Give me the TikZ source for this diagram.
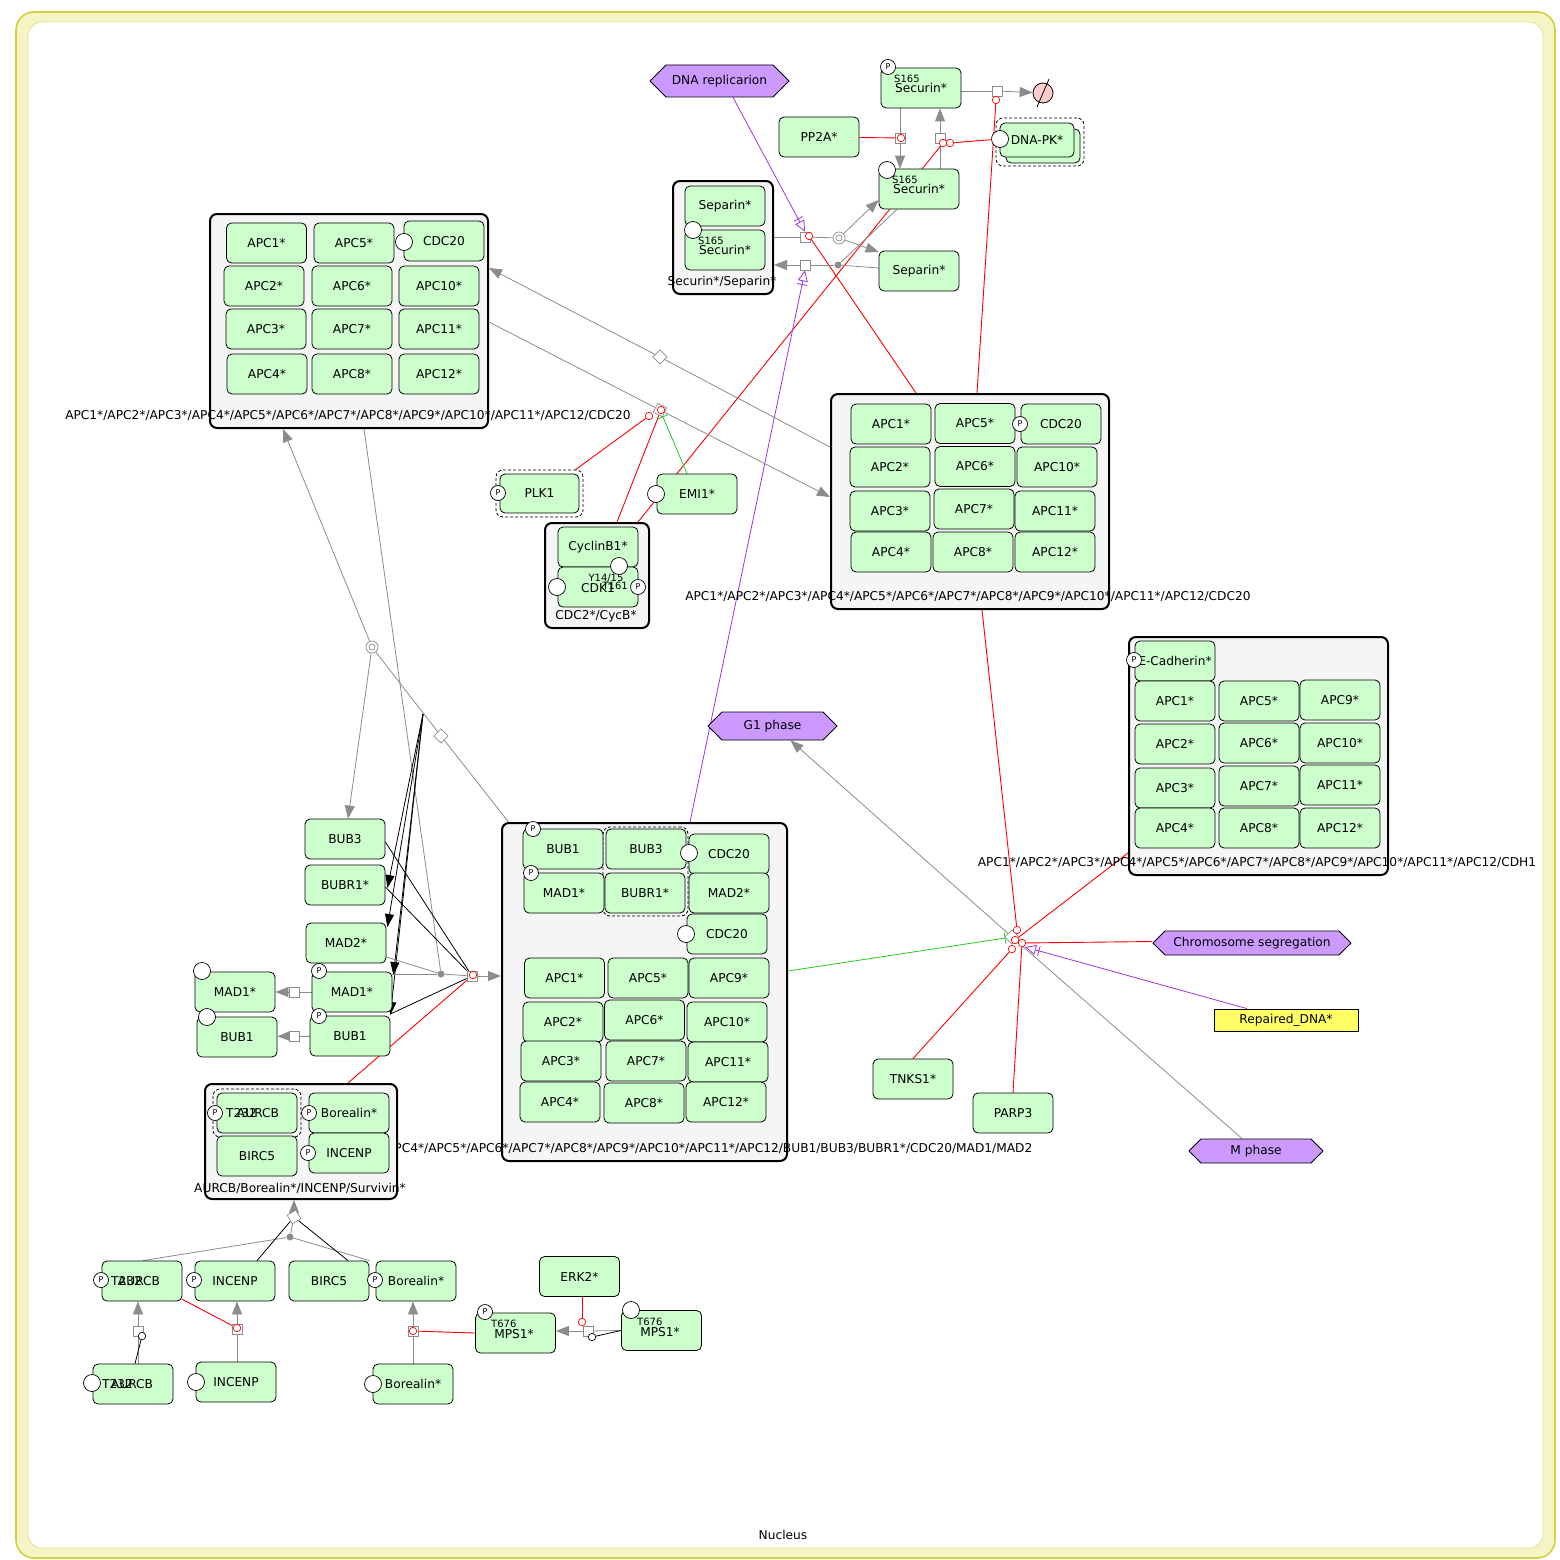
\documentclass[tikz,border=0pt]{standalone}
\usepackage{fontspec}
\setmainfont{DejaVu Sans}
\usetikzlibrary{arrows.meta,shapes.misc,shapes.symbols,calc}
\pgfdeclarelayer{bg}
\pgfdeclarelayer{edges}
\pgfsetlayers{bg,edges,main}
\definecolor{gfill}{HTML}{CCFFCC}
\definecolor{cfill}{HTML}{F5F5F5}
\definecolor{pfill}{HTML}{CC99FF}
\definecolor{yfill}{HTML}{FFFF66}
\definecolor{dfill}{HTML}{FFCCCC}
\definecolor{lgray}{HTML}{8C8C8C}
\definecolor{purp}{HTML}{A033E0}
\definecolor{grn}{HTML}{22CC22}
\definecolor{band}{HTML}{F4F4C4}
\definecolor{bandline}{HTML}{D0D040}
\definecolor{inline}{HTML}{E4E490}
\tikzset{
 base/.style={font=\fontsize{12.2}{14}\selectfont},
 gn/.style={base, rectangle, rounded corners=5pt, draw, line width=0.8pt, fill=gfill, minimum width=80pt, minimum height=40pt, inner sep=0pt},
 cx/.style={rectangle, rounded corners=7pt, draw, line width=2pt, fill=cfill, inner sep=0pt},
 hexa/.style={base, shape=signal, signal to=east and west, signal pointer angle=90, draw, line width=0.8pt, fill=pfill, inner sep=0pt},
 sv/.style={circle, draw, line width=0.7pt, fill=white, minimum size=15pt, inner sep=0pt, font=\fontsize{8}{8}\selectfont},
 sm/.style={font=\fontsize{10}{10}\selectfont, inner sep=0pt},
 lab/.style={base, inner sep=0pt},
 dsh/.style={draw, dash pattern=on 3pt off 2pt, line width=0.8pt, rounded corners=7pt, inner sep=0pt},
 pq/.style={rectangle, draw=lgray, line width=0.7pt, fill=white, minimum size=10pt, inner sep=0pt},
 pd/.style={pq, rotate=45},
 dcirc/.style={circle, draw=lgray, line width=0.7pt, fill=white, minimum size=12pt, inner sep=0pt, path picture={\draw[lgray, line width=0.7pt] (path picture bounding box.center) circle (3pt);}},
 adot/.style={circle, fill=lgray, minimum size=7pt, inner sep=0pt},
 rc/.style={circle, draw=red, line width=0.7pt, fill=white, minimum size=7.5pt, inner sep=0pt},
 bc/.style={circle, draw=black, line width=0.7pt, fill=white, minimum size=7.5pt, inner sep=0pt},
 gl/.style={draw=lgray, line width=0.8pt},
 ga/.style={gl, -{Triangle[length=13pt, width=10pt]}},
 rline/.style={draw=red, line width=0.9pt},
 bl/.style={draw=black, line width=0.8pt},
 ba/.style={bl, -{Triangle[length=13pt, width=9pt]}},
 inh/.style={draw=grn, line width=0.8pt, -{Bar[width=11pt]}},
 nst/.style={draw=purp, line width=0.8pt, -{Bar[width=10pt, sep=3pt] Triangle[open, length=11pt, width=10pt]}},
}
\begin{document}
\begin{tikzpicture}[x=1pt,y=-1pt]
\useasboundingbox (0,0) rectangle (1560,1560);
\begin{pgfonlayer}{bg}
\draw[draw=bandline, line width=1.6pt, fill=band, rounded corners=18pt] (16,12) rectangle (1555,1558);
\draw[draw=inline, line width=0.8pt, fill=white, rounded corners=14pt] (28,22) rectangle (1543,1548);
\end{pgfonlayer}
\node[lab] (nucleus) at (783,1535) {Nucleus};

% ---------- top region ----------
\node[hexa, minimum width=139pt, minimum height=32pt] (dnarep) at (719.5,81) {DNA replicarion};
\node[gn] (secP) at (921,88) {Securin*};
\node[sv] (secPp) at (888,67) {P};
\node[sm, anchor=west] (secPs) at (894,79) {S165};
\node[gn] (pp2a) at (819,137) {PP2A*};
\node[circle, draw, line width=0.8pt, fill=dfill, minimum size=20pt, inner sep=0pt] (degr) at (1043,93) {};
\draw[line width=0.8pt] ($(degr)+(-6,14)$) -- ($(degr)+(6,-14)$);
\node[dsh, minimum width=88pt, minimum height=48pt] (dnapko) at (1040,142) {};
\node[gn, minimum width=74pt, minimum height=34pt] (dnapkb) at (1043,146) {};
\node[gn, minimum width=74pt, minimum height=34pt] (dnapk) at (1037,140) {DNA-PK*};
\node[sv, minimum size=17pt] (dnapkc) at (1000,139) {};
\node[gn] (secS) at (919,189) {Securin*};
\node[sv, minimum size=17pt] (secSc) at (887,170) {};
\node[sm, anchor=west] (secSs) at (892,180) {S165};
\node[gn] (sepA) at (919,271) {Separin*};

\node[cx, minimum width=100pt, minimum height=113pt] (SS) at (723,237.5) {};
\node[gn] (SSsep) at (725,206) {Separin*};
\node[gn] (SSsec) at (725,250) {Securin*};
\node[sv, minimum size=17pt] (SSc) at (693,230) {};
\node[sm, anchor=west] (SSs) at (698,241) {S165};
\node[lab] (SSl) at (722,282) {Securin*/Separin*};

\node[pq] (p1) at (900,138) {};
\node[rc] (r1) at (901,138) {};
\node[pq] (p2) at (940,138) {};
\node[rc] (r2a) at (943,143) {};
\node[rc] (r2b) at (950,143) {};
\node[pq] (p3) at (997,91) {};
\node[rc] (r3) at (996,100) {};
\node[pq] (p4) at (805,237) {};
\node[rc] (r4) at (809,236) {};
\node[dcirc] (d1) at (839,238) {};
\node[pq] (p5) at (805,265) {};
\node[adot] (a1) at (838,265) {};

% ---------- left APC complex ----------
\node[cx, minimum width=278pt, minimum height=214pt] (L) at (349,321) {};
\node[gn] (L1) at (266.5,243) {APC1*};
\node[gn] (L5) at (354,243) {APC5*};
\node[gn] (Lcdc) at (444,241) {CDC20};
\node[sv, minimum size=17pt] (Lc) at (404,242) {};
\node[gn] (L2) at (264,286) {APC2*};
\node[gn] (L6) at (352,286) {APC6*};
\node[gn] (L10) at (439,286) {APC10*};
\node[gn] (L3) at (266,329) {APC3*};
\node[gn] (L7) at (352,329) {APC7*};
\node[gn] (L11) at (439,329) {APC11*};
\node[gn] (L4) at (267,374) {APC4*};
\node[gn] (L8) at (352,374) {APC8*};
\node[gn] (L12) at (439,374) {APC12*};
\node[lab] (Ll) at (348,416) {APC1*/APC2*/APC3*/APC4*/APC5*/APC6*/APC7*/APC8*/APC9*/APC10*/APC11*/APC12/CDC20};

% ---------- right APC complex ----------
\node[cx, minimum width=278pt, minimum height=215pt] (R) at (970,501.5) {};
\node[gn] (R1) at (891,424) {APC1*};
\node[gn] (R5) at (975,423.5) {APC5*};
\node[gn] (Rcdc) at (1061,424) {CDC20};
\node[sv] (Rc) at (1020,424) {P};
\node[gn] (R2) at (890,467) {APC2*};
\node[gn] (R6) at (975,466.5) {APC6*};
\node[gn] (R10) at (1057,467) {APC10*};
\node[gn] (R3) at (890,511) {APC3*};
\node[gn] (R7) at (974,509) {APC7*};
\node[gn] (R11) at (1055,511) {APC11*};
\node[gn] (R4) at (891,552) {APC4*};
\node[gn] (R8) at (973,552) {APC8*};
\node[gn] (R12) at (1055,552) {APC12*};
\node[lab] (Rl) at (968,597) {APC1*/APC2*/APC3*/APC4*/APC5*/APC6*/APC7*/APC8*/APC9*/APC10*/APC11*/APC12/CDC20};

% ---------- CDH1 complex ----------
\node[cx, minimum width=259pt, minimum height=238pt] (C) at (1258.5,756) {};
\node[gn] (Cec) at (1175,661) {E-Cadherin*};
\node[sv] (Cp) at (1134,660) {P};
\node[gn] (C1) at (1175,701) {APC1*};
\node[gn] (C5) at (1259,701) {APC5*};
\node[gn] (C9) at (1340,700) {APC9*};
\node[gn] (C2) at (1175,744) {APC2*};
\node[gn] (C6) at (1259,743) {APC6*};
\node[gn] (C10) at (1340,743) {APC10*};
\node[gn] (C3) at (1175,788) {APC3*};
\node[gn] (C7) at (1259,786) {APC7*};
\node[gn] (C11) at (1340,785) {APC11*};
\node[gn] (C4) at (1175,828) {APC4*};
\node[gn] (C8) at (1259,828) {APC8*};
\node[gn] (C12) at (1340,828) {APC12*};
\node[lab] (Cl) at (1257,863) {APC1*/APC2*/APC3*/APC4*/APC5*/APC6*/APC7*/APC8*/APC9*/APC10*/APC11*/APC12/CDH1};

% ---------- PLK1, EMI1, CDC2/CycB ----------
\node[dsh, minimum width=87pt, minimum height=47pt] (plk1o) at (539.5,493.5) {};
\node[gn, minimum width=79pt, minimum height=39pt] (plk1) at (539.5,493.5) {PLK1};
\node[sv] (plk1p) at (498,493) {P};
\node[gn] (emi1) at (697,494) {EMI1*};
\node[sv, minimum size=17pt] (emi1c) at (656,494) {};
\node[cx, minimum width=104pt, minimum height=105pt] (K) at (597,575.5) {};
\node[gn] (Kcyc) at (598,547) {CyclinB1*};
\node[gn] (Kcdk) at (598,587) {};
\node[lab] (Kcdkt) at (598,588) {CDK1};
\node[sm] (Ky) at (606,578) {Y14/15};
\node[sm, anchor=east] (Kt) at (628,586) {T161};
\node[sv, minimum size=17pt] (Kc1) at (619,566) {};
\node[sv, minimum size=17pt] (Kc2) at (557,587) {};
\node[sv] (Kc3) at (638,587) {P};
\node[lab] (Kl) at (596,616) {CDC2*/CycB*};

\node[pq, rotate=-27] (pL1) at (660,410) {};
\node[rc] (rL1) at (649,416) {};
\node[rc] (rL2) at (661,410) {};
\node[pd] (pL2) at (660,357) {};

% ---------- BUB / MAD region ----------
\node[dcirc] (dc1) at (372,647) {};
\node[pd] (pd1) at (441,736) {};
\node[gn] (bub3) at (345,839) {BUB3};
\node[gn] (bubr1) at (345,885) {BUBR1*};
\node[gn] (mad2) at (346,943) {MAD2*};
\node[gn] (mad1e) at (235,992) {MAD1*};
\node[sv, minimum size=17pt] (mad1ec) at (202,971) {};
\node[gn] (mad1p) at (352,992) {MAD1*};
\node[sv] (mad1pp) at (319,971) {P};
\node[gn] (bub1e) at (237,1037) {BUB1};
\node[sv, minimum size=17pt] (bub1ec) at (207,1017) {};
\node[gn] (bub1p) at (350,1036) {BUB1};
\node[sv] (bub1pp) at (319,1016) {P};
\node[pq] (q1) at (294,992) {};
\node[pq] (q2) at (294,1036) {};
\node[adot] (a2) at (441,974) {};
\node[pq] (q3) at (472,976) {};
\node[rc] (rq3) at (473,975) {};

% ---------- central MCC/APC complex ----------
\node[cx, minimum width=285pt, minimum height=338pt] (M) at (644.5,992) {};
\node[dsh, minimum width=85pt, minimum height=89pt] (Mdo) at (645.5,871.5) {};
\node[gn] (Mbub1) at (563,849) {BUB1};
\node[sv] (Mbub1p) at (533,829) {P};
\node[gn] (Mbub3) at (646,849) {BUB3};
\node[gn] (Mcdc1) at (729,854) {CDC20};
\node[sv, minimum size=17pt] (Mcdc1c) at (689,853) {};
\node[gn] (Mmad1) at (564,893) {MAD1*};
\node[sv] (Mmad1p) at (531,873) {P};
\node[gn] (Mbubr1) at (645,893) {BUBR1*};
\node[gn] (Mmad2) at (729,893) {MAD2*};
\node[gn] (Mcdc2) at (727,934) {CDC20};
\node[sv, minimum size=17pt] (Mcdc2c) at (686,934) {};
\node[gn] (M1) at (564.5,978) {APC1*};
\node[gn] (M5) at (648,978) {APC5*};
\node[gn] (M9) at (729,978) {APC9*};
\node[gn] (M2) at (563,1022) {APC2*};
\node[gn] (M6) at (644.5,1020) {APC6*};
\node[gn] (M10) at (727,1022) {APC10*};
\node[gn] (M3) at (561,1061) {APC3*};
\node[gn] (M7) at (646,1061) {APC7*};
\node[gn] (M11) at (728,1062) {APC11*};
\node[gn] (M4) at (560,1102) {APC4*};
\node[gn] (M8) at (644,1103) {APC8*};
\node[gn] (M12) at (726,1102) {APC12*};
\node[lab] (Ml) at (646,1149) {APC1*/APC2*/APC3*/APC4*/APC5*/APC6*/APC7*/APC8*/APC9*/APC10*/APC11*/APC12/BUB1/BUB3/BUBR1*/CDC20/MAD1/MAD2};

% ---------- AURCB complex ----------
\node[cx, minimum width=192pt, minimum height=115pt] (A) at (301,1141.5) {};
\node[dsh, minimum width=88pt, minimum height=48pt] (Aauro) at (257,1113) {};
\node[gn] (Aaur) at (257,1113) {};
\node[lab] (Aaurt) at (258,1113) {AURCB};
\node[lab, anchor=west] (Aaurs) at (226,1113) {T232};
\node[sv] (Aaurp) at (215,1113) {P};
\node[gn] (Abor) at (349,1113) {Borealin*};
\node[sv] (Aborp) at (309,1113) {P};
\node[gn] (Abirc) at (257,1156) {BIRC5};
\node[gn] (Ainc) at (349,1153) {INCENP};
\node[sv] (Aincp) at (308,1153) {P};
\node[lab] (Al) at (300,1188) {AURCB/Borealin*/INCENP/Survivin*};

\node[pq, rotate=30] (pa) at (294,1217) {};
\node[adot] (a3) at (290,1237) {};

% ---------- bottom row ----------
\node[gn] (aurp) at (142,1281) {};
\node[lab] (aurpt) at (139,1281) {AURCB};
\node[lab, anchor=west] (aurps) at (111,1281) {T232};
\node[sv] (aurpp) at (101,1280) {P};
\node[gn] (incp) at (235,1281) {INCENP};
\node[sv] (incpp) at (194,1280) {P};
\node[gn] (birc) at (329,1281) {BIRC5};
\node[gn] (borp) at (416,1281) {Borealin*};
\node[sv] (borpp) at (375,1280) {P};

\node[gn] (aure) at (133,1384) {};
\node[lab] (auret) at (132,1384) {AURCB};
\node[lab, anchor=west] (aures) at (102,1384) {T232};
\node[sv, minimum size=17pt] (aurec) at (92,1383) {};
\node[gn] (ince) at (236,1382) {INCENP};
\node[sv, minimum size=17pt] (incec) at (196,1382) {};
\node[gn] (bore) at (413,1384) {Borealin*};
\node[sv, minimum size=17pt] (borec) at (373,1384) {};

\node[pq] (s1) at (138,1331) {};
\node[bc] (bc1) at (142,1336) {};
\node[pq] (s2) at (237,1329) {};
\node[rc] (rs2) at (237,1328) {};
\node[pq] (s3) at (413,1331) {};
\node[rc] (rs3) at (413,1331) {};

\node[gn] (mpsp) at (515.5,1333) {};
\node[lab] (mpspt) at (514,1334) {MPS1*};
\node[sm, anchor=west] (mpsps) at (491,1324) {T676};
\node[sv] (mpspp) at (485,1312) {P};
\node[gn] (erk) at (579.5,1276.5) {ERK2*};
\node[gn] (mpse) at (661.5,1330.5) {};
\node[lab] (mpset) at (660,1332) {MPS1*};
\node[sm, anchor=west] (mpses) at (637,1322) {T676};
\node[sv, minimum size=17pt] (mpsec) at (631,1310) {};
\node[pq] (s4) at (588,1331) {};
\node[rc] (rs4) at (582,1322) {};
\node[bc] (bc2) at (592,1337) {};

% ---------- right side phases ----------
\node[hexa, minimum width=129pt, minimum height=28pt] (g1) at (772.5,726) {G1 phase};
\node[hexa, minimum width=198pt, minimum height=24pt] (chrom) at (1252,943) {Chromosome segregation};
\node[base, draw, line width=0.8pt, fill=yfill, minimum width=144pt, minimum height=22pt, inner sep=0pt] (rdna) at (1286,1020) {Repaired\_DNA*};
\node[hexa, minimum width=134pt, minimum height=24pt] (mph) at (1256,1151) {M phase};
\node[gn] (tnks) at (913,1079) {TNKS1*};
\node[gn] (parp) at (1013,1113) {PARP3};
\node[pd] (hub) at (1012,937) {};
\node[rc] (h1) at (1017,930) {};
\node[rc] (h2) at (1015,940) {};
\node[rc] (h3) at (1022,943) {};
\node[rc] (h4) at (1012,949) {};
\coordinate (hubp) at (1025,947);
\coordinate (bsrc) at (423,714);

% ================= edges =================
\begin{pgfonlayer}{edges}
\draw[gl] (secP.south -| p1) -- (p1);
\draw[ga] (p1) -- (secS.north -| p1);
\draw[gl] (secS.north -| p2) -- (p2);
\draw[ga] (p2) -- (secP.south -| p2);
\draw[gl] (secP.east |- p3) -- (p3);
\draw[ga] (p3) -- (degr);
\draw[rline] (pp2a) -- (r1);
\draw[rline] (dnapkc) -- (r2b);
\draw[rline] ($(K.north)+(41,0)$) -- (r2a);
\draw[rline] ($(R.north)+(7,0)$) -- (r3);
\draw[rline] ($(R.north)+(-54,0)$) -- (r4);
\draw[gl] (SS.east |- p4) -- (p4);
\draw[gl] (p4) -- (d1);
\draw[ga] (d1) -- ($(secS.west)+(0,11)$);
\draw[ga] (d1) -- ($(sepA.west)+(0,-19)$);
\draw[gl] ($(sepA.west)+(0,-3)$) -- (a1);
\draw[gl] ($(secS.south)+(-22,0)$) -- (a1);
\draw[gl] (a1) -- (p5);
\draw[ga] (p5) -- (SS.east |- p5);
\draw[nst] ($(dnarep.south)+(13.5,0)$) -- (p4.north);
\draw[nst] ($(M.north)+(45.5,0)$) -- (p5.south);

\draw[gl] ($(L.east)+(0,1)$) -- (pL1);
\draw[ga] (pL1) -- ($(R.west)+(0,-4.5)$);
\draw[gl] ($(R.west)+(0,-54.5)$) -- (pL2);
\draw[ga] (pL2) -- ($(L.east)+(0,-53)$);
\draw[rline] ($(plk1o.north)+(36,0)$) -- (rL1);
\draw[rline] ($(K.north)+(20,0)$) -- (rL2);
\draw[inh] ($(emi1.north)+(-10,0)$) -- (pL1);

\draw[gl] ($(M.north)+(-136,0)$) -- (pd1);
\draw[gl] (pd1) -- (dc1);
\draw[ga] (dc1) -- ($(L.south)+(-66,0)$);
\draw[ga] (dc1) -- ($(bub3.north)+(3,0)$);
\draw[gl] ($(L.south)+(15,0)$) -- (a2);
\draw[ba] (bsrc) -- ($(bubr1.east)+(2,3)$);
\draw[ba] (bsrc) -- ($(mad2.east)+(1,-16)$);
\draw[ba] (bsrc) -- ($(mad1p.east)+(1,-17)$);
\draw[ba] (bsrc) -- ($(bub1p.east)+(0,-21)$);
\draw[bl] ($(bub3.east)+(0,3)$) -- (q3);
\draw[bl] ($(bubr1.east)+(0,2)$) -- (q3);
\draw[bl] ($(bub1p.east)+(0,-22)$) -- (q3);
\draw[gl] ($(mad2.east)+(0,14)$) -- (a2);
\draw[gl] ($(mad1p.east)+(0,-18)$) -- (a2);
\draw[gl] (a2) -- (q3);
\draw[ga] (q3) -- (M.west |- q3);
\draw[rline] ($(A.north)+(47,0)$) -- (rq3);
\draw[gl] (mad1p) -- (q1);
\draw[ga] (q1) -- (mad1e);
\draw[gl] (bub1p) -- (q2);
\draw[ga] (q2) -- (bub1e);

\draw[gl] ($(mph.north)+(-14,0)$) -- (hub);
\draw[ga] (hub) -- ($(g1.south)+(18,0)$);
\draw[rline] ($(R.south)+(12,0)$) -- (h1);
\draw[rline] ($(C.west)+(0,97)$) -- (h2);
\draw[rline] ($(chrom.west)+(0,-1.5)$) -- (h3);
\draw[rline] (tnks.north) -- (h4);
\draw[rline] (parp.north) -- (h3);
\draw[inh] ($(M.east)+(0,-21)$) -- (hub);
\draw[nst] ($(rdna.north)+(-39,0)$) -- (hubp);

\draw[ga] (pa) -- (A.south -| pa);
\draw[gl] (a3) -- (pa);
\draw[gl] ($(aurp.north)+(1,0)$) -- (a3);
\draw[gl] ($(borp.north west)+(-6,0)$) -- (a3);
\draw[bl] ($(incp.north)+(22,0)$) -- (pa);
\draw[bl] ($(birc.north)+(19,0)$) -- (pa);

\draw[gl] (aure.north -| s1) -- (s1);
\draw[ga] (s1) -- (aurp.south -| s1);
\draw[bl] ($(aure.north)+(2,0)$) -- (bc1);
\draw[gl] (ince.north -| s2) -- (s2);
\draw[ga] (s2) -- (incp.south -| s2);
\draw[rline] ($(aurp.south east)+(0,-2)$) -- (rs2);
\draw[gl] (bore.north -| s3) -- (s3);
\draw[ga] (s3) -- (borp.south -| s3);
\draw[rline] (mpsp.west) -- (rs3);
\draw[gl] (mpse.west) -- (s4);
\draw[ga] (s4) -- (mpsp.east |- s4);
\draw[bl] (mpse.west) -- (bc2);
\draw[rline] (erk.south -| rs4) -- (rs4);
\end{pgfonlayer}
\end{tikzpicture}
\end{document}
